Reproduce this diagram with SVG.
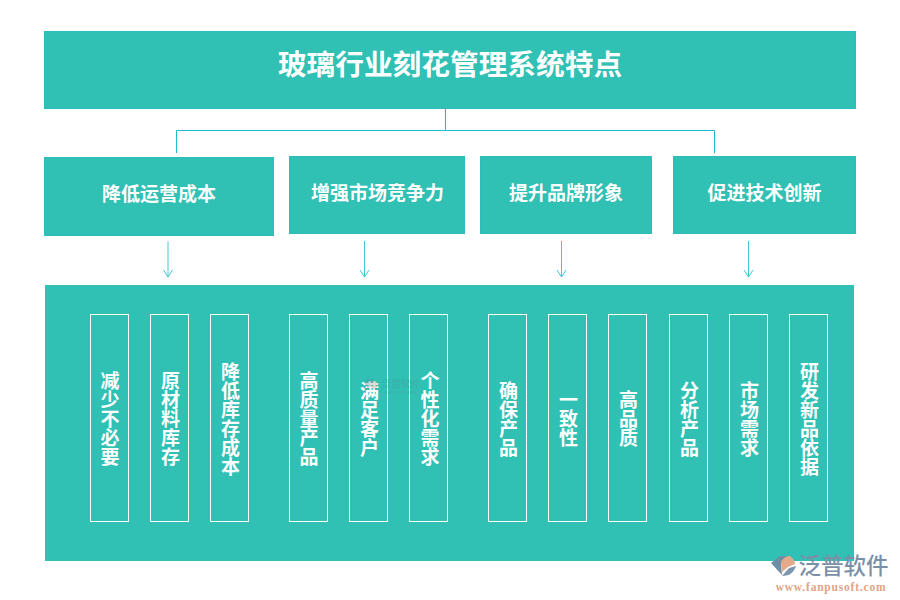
<svg xmlns="http://www.w3.org/2000/svg" width="900" height="600" viewBox="0 0 900 600">
<style>
text{font-family:"Noto Sans CJK SC","Liberation Sans",sans-serif;font-weight:700;fill:#fff;text-anchor:middle}
.box{fill:#30c0b4;stroke:#2bbcc0;stroke-width:1}
.col{fill:none;stroke:#fff;stroke-width:1}
.h{font-size:19px}
.v{font-size:19px;writing-mode:vertical-rl;dominant-baseline:central}
.c{fill:none;stroke:#1dbcc6;stroke-width:1}
.a{fill:none;stroke:#45c8d2;stroke-width:1}
</style>
<rect width="900" height="600" fill="#fff"/>
<g id="connectors">
<path class="c" d="M445.500 109V130.500H176.500V153M445.500 130.500H714.500V153"/>
<path class="a" d="M168 241.500V277M163.500 270L168 277L172.500 270"/>
<path class="a" d="M364.500 241V277M360 270L364.500 277L369 270"/>
<path class="a" d="M561.500 241V277M557 270L561.500 277L566 270"/>
<path class="a" d="M748.500 241V277M744 270L748.500 277L753 270"/>
</g>
<g id="title"><rect class="box" x="44.500" y="31.500" width="811" height="77"/><text x="450" y="75" font-size="28.700">玻璃行业刻花管理系统特点</text></g>
<g id="n1"><rect class="box" x="44.500" y="157.500" width="229" height="78"/><text class="h" x="159" y="201">降低运营成本</text></g>
<g id="n2"><rect class="box" x="289.500" y="156.500" width="175" height="77"/><text class="h" x="377.500" y="200">增强市场竞争力</text></g>
<g id="n3"><rect class="box" x="480.500" y="156.500" width="171" height="77"/><text class="h" x="566" y="200">提升品牌形象</text></g>
<g id="n4"><rect class="box" x="673.500" y="156.500" width="182" height="77"/><text class="h" x="764.500" y="200">促进技术创新</text></g>
<g id="panel"><rect x="45" y="285" width="809" height="276" fill="#30c0b4"/></g>
<g id="d1"><rect class="col" x="90.500" y="314.500" width="38" height="207"/><text class="v" x="110" y="419">减少不必要</text></g>
<g id="d2"><rect class="col" x="150.500" y="314.500" width="38" height="207"/><text class="v" x="170.500" y="419">原材料库存</text></g>
<g id="d3"><rect class="col" x="210.500" y="314.500" width="38" height="207"/><text class="v" x="230.500" y="419">降低库存成本</text></g>
<g id="d4"><rect class="col" x="289.500" y="314.500" width="38" height="207"/><text class="v" x="309" y="419">高质量产品</text></g>
<g id="d5"><rect class="col" x="349.500" y="314.500" width="38" height="207"/><text class="v" x="369.500" y="419">满足客户</text></g>
<g id="d6"><rect class="col" x="409.500" y="314.500" width="38" height="207"/><text class="v" x="430" y="419">个性化需求</text></g>
<g id="d7"><rect class="col" x="488.500" y="314.500" width="38" height="207"/><text class="v" x="508.500" y="419">确保产品</text></g>
<g id="d8"><rect class="col" x="548.500" y="314.500" width="38" height="207"/><text class="v" x="568.500" y="419">一致性</text></g>
<g id="d9"><rect class="col" x="608.500" y="314.500" width="38" height="207"/><text class="v" x="628.500" y="419">高品质</text></g>
<g id="d10"><rect class="col" x="669.500" y="314.500" width="38" height="207"/><text class="v" x="689.500" y="419">分析产品</text></g>
<g id="d11"><rect class="col" x="729.500" y="314.500" width="38" height="207"/><text class="v" x="749.500" y="419">市场需求</text></g>
<g id="d12"><rect class="col" x="789.500" y="314.500" width="38" height="207"/><text class="v" x="809.500" y="419">研发新品依据</text></g>
<g id="watermark-center" opacity="0.35">
<path d="M367 379h7l-3 5-3 5-3-5z" fill="#5c8a9c"/><circle cx="374" cy="385" r="4" fill="#b89f84"/>
<text x="401" y="387" font-size="9.500" style="fill:#4d9aa0">泛普软件</text>
<text x="401" y="393.500" font-size="3.500" style="fill:#4d9aa0">FANPU SOFTWARE</text>
</g>
<g id="logo">
<path d="M780 556h7l-6 8 1 11-11-12z" fill="#6f8ea6"/>
<path d="M781 562c2-4 6-6 9-6 3 2 5 5 5 8l-7 3-6 5z" fill="#e2a98a"/>
<path d="M782 576l7-8 7-2c-2 6-6 10-14 10z" fill="#7d95ad"/>
<text x="843.500" y="574" font-size="22.500" style="fill:#7b90a8;font-weight:500">泛普软件</text>
<text x="831" y="591" font-size="11.500" style="fill:#e0a487;font-family:'Liberation Serif',serif;letter-spacing:0.8px">www.fanpusoft.com</text>
</g>
</svg>
